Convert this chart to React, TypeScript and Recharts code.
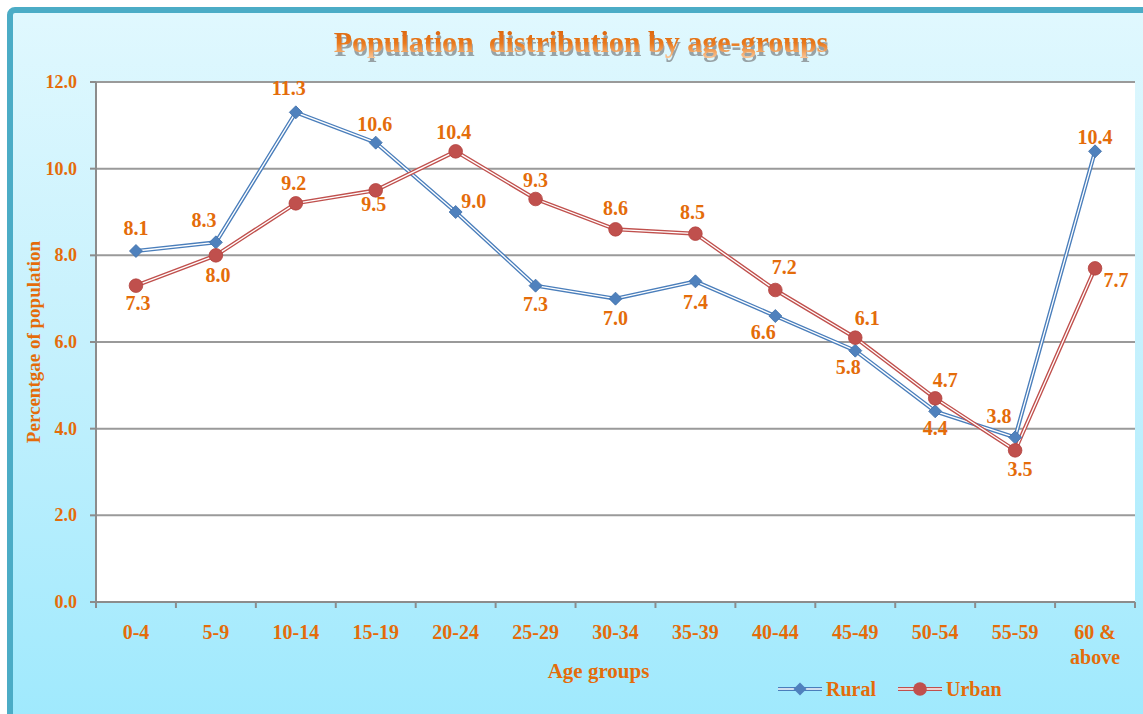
import React from 'react';
import {
  LineChart,
  Line,
  XAxis,
  YAxis,
  CartesianGrid,
  Legend,
  LabelList,
  Customized,
} from 'recharts';

// ---------- data ----------
const categories = ['0-4', '5-9', '10-14', '15-19', '20-24', '25-29', '30-34', '35-39', '40-44', '45-49', '50-54', '55-59', '60 & above'];
const ruralValues = [8.1, 8.3, 11.3, 10.6, 9.0, 7.3, 7.0, 7.4, 6.6, 5.8, 4.4, 3.8, 10.4];
const urbanValues = [7.3, 8.0, 9.2, 9.5, 10.4, 9.3, 8.6, 8.5, 7.2, 6.1, 4.7, 3.5, 7.7];
const yTicks = [0, 2, 4, 6, 8, 10, 12];

// label placement (label centre offset from its point, px)
const ruralLabelOffsets: [number, number][] = [[0, -23], [-12, -22], [-7, -24], [-1, -19], [18, -11], [0, 18], [0, 19], [0, 21], [-12, 16], [-7, 16], [0, 17], [-16, -21], [0, -14]];
const urbanLabelOffsets: [number, number][] = [[2, 17], [2, 20], [-2, -20], [-2, 14], [-2, -19], [0, -19], [0, -21], [-3, -22], [9, -23], [12, -20], [10, -18], [5, 19], [21, 12]];

const data = categories.map((c, i) => ({ group: c, rural: ruralValues[i], urban: urbanValues[i] }));

// ---------- styles ----------
const W = 1143;
const H = 714;
const MARGIN = { top: 82, right: 8, bottom: 62, left: 36 };
const Y_AXIS_W = 60;
const X_AXIS_H = 50;
const PLOT_LEFT = MARGIN.left + Y_AXIS_W;
const PLOT_W = W - PLOT_LEFT - MARGIN.right;
const BAND = PLOT_W / categories.length;

const FONT = '"Liberation Serif", "Times New Roman", serif';
const ORANGE = '#E46C0A';
const BLUE = '#4A7EBB';
const RED = '#C0504D';
const AXIS = '#8C8C8C';
const GRID = '#9A9A9A';

const XTick = (props: any) => {
  const { x, y, payload, index } = props;
  const label: string = String(payload.value);
  const lines = label === '60 & above' ? ['60 &', 'above'] : [label];
  const left = x - BAND / 2;
  return (
    <g>
      <line x1={left} y1={y} x2={left} y2={y + 6} stroke={AXIS} strokeWidth={2} />
      {index === categories.length - 1 && (
        <line x1={x + BAND / 2} y1={y} x2={x + BAND / 2} y2={y + 6} stroke={AXIS} strokeWidth={2} />
      )}
      {lines.map((l, i) => (
        <text
          key={i}
          x={x}
          y={y + 37 + i * 25}
          textAnchor="middle"
          fontFamily={FONT}
          fontWeight="bold"
          fontSize={20}
          fill={ORANGE}
        >
          {l}
        </text>
      ))}
    </g>
  );
};

const YTick = (props: any) => {
  const { x, y, payload } = props;
  return (
    <text x={x} y={y + 6} textAnchor="end" fontFamily={FONT} fontWeight="bold" fontSize={18} fill={ORANGE}>
      {Number(payload.value).toFixed(1)}
    </text>
  );
};

const makeLabel = (offsets: [number, number][]) => (props: any) => {
  const { x, y, value, index } = props;
  const [dx, dy] = offsets[index] || [0, -20];
  return (
    <text
      x={x + dx}
      y={y + dy + 7}
      textAnchor="middle"
      fontFamily={FONT}
      fontWeight="bold"
      fontSize={20}
      fill={ORANGE}
    >
      {Number(value).toFixed(1)}
    </text>
  );
};

const Diamond = (props: any) => {
  const { cx, cy, index } = props;
  if (cx == null || cy == null) return <g key={`d-${index}`} />;
  const s = 6.5;
  return (
    <path
      key={`d-${index}`}
      d={`M${cx},${cy - s} L${cx + s},${cy} L${cx},${cy + s} L${cx - s},${cy} Z`}
      fill="#4F81BD"
      stroke="#3F6FA8"
      strokeWidth={0.8}
    />
  );
};

const Circle = (props: any) => {
  const { cx, cy, index } = props;
  if (cx == null || cy == null) return <g key={`c-${index}`} />;
  return <circle key={`c-${index}`} cx={cx} cy={cy} r={6.8} fill={RED} stroke="#B3423F" strokeWidth={0.8} />;
};

const LegendContent = () => (
  <svg width={250} height={24} style={{ display: 'block', overflow: 'visible' }}>
    <line x1={3} y1={12} x2={47} y2={12} stroke={BLUE} strokeWidth={4} />
    <line x1={3} y1={12} x2={47} y2={12} stroke="#fff" strokeWidth={1.3} />
    <path d="M25,5.5 L31.5,12 L25,18.5 L18.5,12 Z" fill="#4F81BD" />
    <text x={51} y={19} fontFamily={FONT} fontWeight="bold" fontSize={20} fill={ORANGE}>Rural</text>
    <line x1={123} y1={12} x2={167} y2={12} stroke={RED} strokeWidth={4} />
    <line x1={123} y1={12} x2={167} y2={12} stroke="#fff" strokeWidth={1.3} />
    <circle cx={145} cy={12} r={6.8} fill={RED} />
    <text x={171} y={19} fontFamily={FONT} fontWeight="bold" fontSize={20} fill={ORANGE}>Urban</text>
  </svg>
);

const Title = () => (
  <g>
    <defs>
      <linearGradient id="titleGrad" x1="0" y1="0" x2="0" y2="1">
        <stop offset="0%" stopColor="#D9600A" />
        <stop offset="55%" stopColor="#E8791C" />
        <stop offset="100%" stopColor="#FAC696" />
      </linearGradient>
      <filter id="titleShadow" x="-5%" y="-30%" width="110%" height="170%">
        <feOffset in="SourceAlpha" dx="1" dy="4" result="off" />
        <feFlood floodColor="#6A6A6A" floodOpacity="0.6" result="col" />
        <feComposite in="col" in2="off" operator="in" result="shadow" />
        <feMerge>
          <feMergeNode in="shadow" />
          <feMergeNode in="SourceGraphic" />
        </feMerge>
      </filter>
    </defs>
    <text
      x={581}
      y={52}
      textAnchor="middle"
      fontFamily={FONT}
      fontWeight="bold"
      fontSize={30}
      fill="url(#titleGrad)"
      filter="url(#titleShadow)"
      style={{ whiteSpace: 'pre' }}
    >
      {'Population  distribution by age-groups'}
    </text>
  </g>
);

export default function App() {
  return (
    <div style={{ position: 'absolute', left: 0, top: 0, width: W, height: H, overflow: 'hidden', background: '#fff' }}>
      <div
        style={{
          position: 'absolute',
          left: 7,
          top: 7,
          width: W + 20,
          height: H + 20,
          boxSizing: 'border-box',
          border: '6px solid #4BACC6',
          borderRadius: 8,
          background: 'linear-gradient(to bottom, #E0F8FE 0%, #C6F1FD 45%, #9EE9FD 100%)',
        }}
      />
      <div style={{ position: 'absolute', left: 0, top: 0 }}>
        <LineChart width={W} height={H} data={data} margin={MARGIN}>
          <CartesianGrid horizontal vertical={false} stroke={GRID} strokeWidth={2} fill="#ffffff" fillOpacity={1} />
          <XAxis
            dataKey="group"
            scale="band"
            height={X_AXIS_H}
            interval={0}
            tickLine={false}
            tickSize={0}
            tickMargin={0}
            axisLine={{ stroke: AXIS, strokeWidth: 2 }}
            tick={<XTick />}
            label={{
              content: (p: any) => {
                const vb = p.viewBox || { x: PLOT_LEFT, y: 602, width: PLOT_W };
                return (
                  <text
                    x={vb.x + vb.width / 2 - 17}
                    y={vb.y + 76}
                    textAnchor="middle"
                    fontFamily={FONT}
                    fontWeight="bold"
                    fontSize={21}
                    fill={ORANGE}
                  >
                    Age groups
                  </text>
                );
              },
            }}
          />
          <YAxis
            width={Y_AXIS_W}
            domain={[0, 12]}
            ticks={yTicks}
            interval={0}
            tickSize={6}
            tickMargin={13}
            tickLine={{ stroke: AXIS, strokeWidth: 2 }}
            axisLine={{ stroke: AXIS, strokeWidth: 2 }}
            tick={<YTick />}
            label={{
              content: (p: any) => {
                const vb = p.viewBox || { x: MARGIN.left, y: MARGIN.top, height: 520 };
                const cx = vb.x + 4;
                const cy = vb.y + vb.height / 2;
                return (
                  <text
                    x={cx}
                    y={cy}
                    transform={`rotate(-90, ${cx}, ${cy})`}
                    textAnchor="middle"
                    fontFamily={FONT}
                    fontWeight="bold"
                    fontSize={19}
                    fill={ORANGE}
                  >
                    Percentgae of population
                  </text>
                );
              },
            }}
          />
          <Line type="linear" dataKey="rural" stroke={BLUE} strokeWidth={4} dot={false} activeDot={false} isAnimationActive={false} legendType="none" />
          <Line type="linear" dataKey="rural" stroke="#ffffff" strokeWidth={1.3} dot={<Diamond />} activeDot={false} isAnimationActive={false} legendType="none" />
          <Line type="linear" dataKey="urban" stroke={RED} strokeWidth={4} dot={false} activeDot={false} isAnimationActive={false} legendType="none" />
          <Line type="linear" dataKey="urban" stroke="#ffffff" strokeWidth={1.3} dot={<Circle />} activeDot={false} isAnimationActive={false} legendType="none" />
          <Line type="linear" dataKey="rural" stroke="none" dot={false} activeDot={false} isAnimationActive={false} legendType="none">
            <LabelList dataKey="rural" content={makeLabel(ruralLabelOffsets)} />
          </Line>
          <Line type="linear" dataKey="urban" stroke="none" dot={false} activeDot={false} isAnimationActive={false} legendType="none">
            <LabelList dataKey="urban" content={makeLabel(urbanLabelOffsets)} />
          </Line>
          <Legend
            layout="horizontal"
            verticalAlign="middle"
            align="center"
            content={() => <LegendContent />}
            wrapperStyle={{ top: 677, left: 775, width: 250, height: 24 }}
          />
          <Customized component={Title} />
        </LineChart>
      </div>
    </div>
  );
}
